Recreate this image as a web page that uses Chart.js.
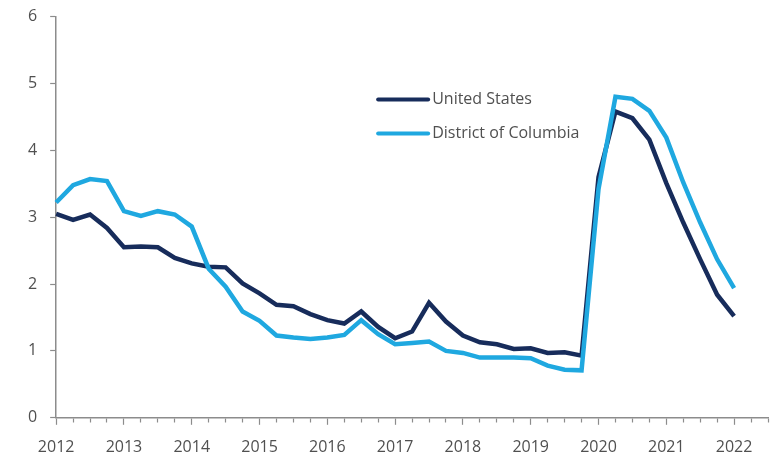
<!DOCTYPE html>
<html>

<head>
    <meta http-equiv="Content-Type" content="text/html; charset=UTF-8">
    <title>United States vs District of Columbia</title>
    <script src="https://cdn.jsdelivr.net/npm/chart.js@4.4.0/dist/chart.umd.min.js"></script>
    <style>
        body { margin: 0; background: #fff; overflow: hidden; }
        /* a bit larger than the window so the plot edges sit where the original's do */
        #wrap { width: 781px; height: 466px; position: relative; top: -6px; }
    </style>

    <script>
        // quarterly categories, 2012 Q1 .. 2022 Q3 (data stops at 2022 Q1)
        const categories = [
            '2012', '', '', '', '2013', '', '', '', '2014', '', '', '',
            '2015', '', '', '', '2016', '', '', '', '2017', '', '', '',
            '2018', '', '', '', '2019', '', '', '', '2020', '', '', '',
            '2021', '', '', '', '2022', '', ''
        ];

        const usValues = [
            3.05, 2.96, 3.04, 2.84,
            2.55, 2.56, 2.55, 2.39,
            2.31, 2.26, 2.25, 2.01,
            1.86, 1.69, 1.67, 1.55,
            1.46, 1.41, 1.59, 1.36,
            1.19, 1.29, 1.72, 1.44,
            1.23, 1.13, 1.10, 1.03,
            1.04, 0.97, 0.98, 0.93,
            3.60, 4.58, 4.48, 4.16,
            3.51, 2.92, 2.37, 1.84,
            1.52
        ];

        const dcValues = [
            3.22, 3.48, 3.57, 3.54,
            3.09, 3.02, 3.09, 3.04,
            2.86, 2.23, 1.96, 1.59,
            1.45, 1.23, 1.20, 1.18,
            1.20, 1.24, 1.46, 1.25,
            1.10, 1.12, 1.14, 1.00,
            0.97, 0.90, 0.90, 0.90,
            0.89, 0.78, 0.72, 0.71,
            3.42, 4.80, 4.77, 4.59,
            4.19, 3.52, 2.92, 2.37,
            1.94
        ];

        const yTicks = [0, 1, 2, 3, 4, 5, 6];
        const seriesNames = ['United States', 'District of Columbia'];

        const navy = '#172c5b';
        const sky = '#1fa8e0';
        const axisGray = '#8c8c8c';
        const textGray = '#505050';
        const fontFamily = '"Open Sans", "Noto Sans", sans-serif';

        // legend drawn inside the plot, like the original
        const innerLegend = {
            id: 'innerLegend',
            afterDraw(chart) {
                const ctx = chart.ctx;
                const area = chart.chartArea;
                const x0 = area.left + 320;
                const rows = [
                    { name: seriesNames[0], color: navy, y: area.top + 83 },
                    { name: seriesNames[1], color: sky, y: area.top + 117 }
                ];
                ctx.save();
                ctx.font = '16px ' + fontFamily;
                ctx.textBaseline = 'middle';
                rows.forEach(r => {
                    ctx.strokeStyle = r.color;
                    ctx.lineWidth = 4;
                    ctx.lineCap = 'round';
                    ctx.beginPath();
                    ctx.moveTo(x0 + 2, r.y);
                    ctx.lineTo(x0 + 52, r.y);
                    ctx.stroke();
                    ctx.fillStyle = textGray;
                    ctx.fillText(r.name, x0 + 56, r.y);
                });
                ctx.restore();
            }
        };

        window.addEventListener('load', function () {
            const ctx = document.getElementById('myChart');
            new Chart(ctx, {
                type: 'line',
                data: {
                    labels: categories,
                    datasets: [{
                        label: seriesNames[1],
                        data: dcValues,
                        borderColor: sky,
                        borderWidth: 4.5,
                        pointRadius: 0,
                        tension: 0,
                        order: 0
                    }, {
                        label: seriesNames[0],
                        data: usValues,
                        borderColor: navy,
                        borderWidth: 4.5,
                        pointRadius: 0,
                        tension: 0,
                        order: 1
                    }]
                },
                plugins: [innerLegend],
                options: {
                    responsive: true,
                    maintainAspectRatio: false,
                    animation: false,
                    layout: { padding: { left: 15, right: 2, top: 4, bottom: -10 } },
                    plugins: {
                        legend: { display: false },
                        tooltip: { enabled: false }
                    },
                    scales: {
                        x: {
                            offset: false,
                            border: { display: true, color: axisGray, width: 1.5 },
                            grid: {
                                drawOnChartArea: false,
                                drawTicks: true,
                                tickLength: 7,
                                color: axisGray,
                                tickWidth: 1.2,
                                tickBorderDash: c => (categories[c.index] ? [] : [4, 20])
                            },
                            ticks: {
                                autoSkip: false,
                                maxRotation: 0,
                                padding: 13,
                                color: textGray,
                                font: { family: fontFamily, size: 16 }
                            }
                        },
                        y: {
                            min: 0,
                            max: 6,
                            afterBuildTicks: axis => { axis.ticks = yTicks.map(v => ({ value: v })); },
                            border: { display: true, color: axisGray, width: 1.5 },
                            grid: {
                                drawOnChartArea: false,
                                drawTicks: true,
                                tickLength: 6,
                                color: axisGray,
                                tickWidth: 1.2
                            },
                            ticks: {
                                padding: 13,
                                color: textGray,
                                font: { family: fontFamily, size: 16 }
                            }
                        }
                    }
                }
            });
        });
    </script>
</head>

<body>
    <div id="wrap">
        <canvas id="myChart"></canvas>
    </div>
</body>

</html>
